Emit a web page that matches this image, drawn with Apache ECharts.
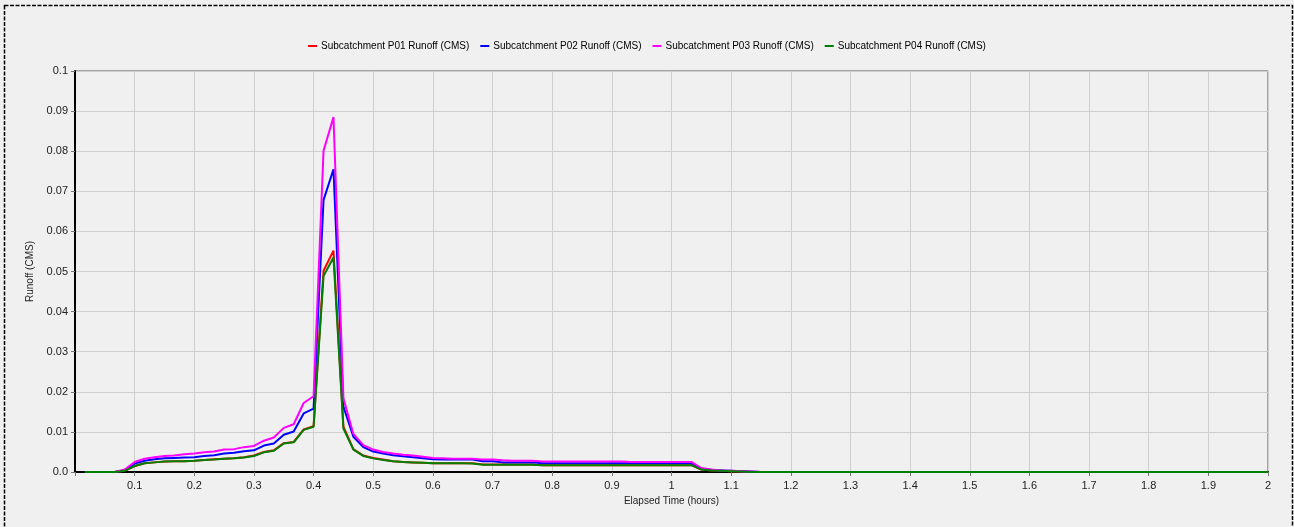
<!DOCTYPE html>
<html>
<head>
<meta charset="utf-8">
<title>Subcatchment Runoff</title>
<script src="https://cdn.jsdelivr.net/npm/echarts@6/dist/echarts.min.js"></script>
<style>
  html, body { margin: 0; padding: 0; background: #f0f0f0; }
  #chart { width: 1294px; height: 527px; }
</style>
</head>
<body>
<div id="chart"></div>
<script>
// Runoff reported every minute, from minute 1 to minute 120 (CMS)
const reportStepMinutes = 1;

const seriesNames = [
  'Subcatchment P01 Runoff (CMS)',
  'Subcatchment P02 Runoff (CMS)',
  'Subcatchment P03 Runoff (CMS)',
  'Subcatchment P04 Runoff (CMS)'
];
const seriesColors = ['#ff0000', '#0000ff', '#ff00ff', '#008000'];

const runoffP01 = [
  0, 0, 0, 0, 0.0003, 0.0015, 0.0022, 0.0024, 0.0026, 0.0027,
  0.0027, 0.0028, 0.0030, 0.0032, 0.0033, 0.0034, 0.0037, 0.0041, 0.0050, 0.0054,
  0.0072, 0.0075, 0.0106, 0.0114, 0.0502, 0.0552, 0.0113, 0.0057, 0.0041, 0.0035,
  0.0031, 0.0027, 0.0025, 0.0024, 0.0023, 0.0022, 0.0022, 0.0022, 0.0022, 0.0022,
  0.0019, 0.0019, 0.0019, 0.0019, 0.0019, 0.0019, 0.0017, 0.0017, 0.0017, 0.0017,
  0.0017, 0.0017, 0.0017, 0.0017, 0.0017, 0.0017, 0.0017, 0.0017, 0.0017, 0.0017,
  0.0017, 0.0017, 0.0006, 0.0004, 0.0003, 0.0002, 0.0001, 0, 0, 0,
  0, 0, 0, 0, 0, 0, 0, 0, 0, 0,
  0, 0, 0, 0, 0, 0, 0, 0, 0, 0,
  0, 0, 0, 0, 0, 0, 0, 0, 0, 0,
  0, 0, 0, 0, 0, 0, 0, 0, 0, 0,
  0, 0, 0, 0, 0, 0, 0, 0, 0, 0
];

const runoffP02 = [
  0, 0, 0, 0, 0.0004, 0.0021, 0.0028, 0.0032, 0.0034, 0.0035,
  0.0036, 0.0037, 0.0040, 0.0042, 0.0046, 0.0048, 0.0052, 0.0054, 0.0066, 0.0071,
  0.0093, 0.0101, 0.0146, 0.0158, 0.0678, 0.0755, 0.0163, 0.0088, 0.0062, 0.0051,
  0.0046, 0.0042, 0.0039, 0.0037, 0.0034, 0.0032, 0.0031, 0.0031, 0.0031, 0.0031,
  0.0027, 0.0027, 0.0024, 0.0024, 0.0024, 0.0024, 0.0022, 0.0022, 0.0022, 0.0022,
  0.0022, 0.0022, 0.0022, 0.0022, 0.0022, 0.0022, 0.0022, 0.0022, 0.0022, 0.0022,
  0.0022, 0.0022, 0.0008, 0.0005, 0.0004, 0.0003, 0.0002, 0.0001, 0, 0,
  0, 0, 0, 0, 0, 0, 0, 0, 0, 0,
  0, 0, 0, 0, 0, 0, 0, 0, 0, 0,
  0, 0, 0, 0, 0, 0, 0, 0, 0, 0,
  0, 0, 0, 0, 0, 0, 0, 0, 0, 0,
  0, 0, 0, 0, 0, 0, 0, 0, 0, 0
];

const runoffP03 = [
  0, 0, 0, 0, 0.0006, 0.0025, 0.0033, 0.0037, 0.0040, 0.0041,
  0.0044, 0.0046, 0.0049, 0.0051, 0.0056, 0.0057, 0.0062, 0.0065, 0.0078, 0.0086,
  0.0110, 0.0119, 0.0172, 0.0189, 0.0801, 0.0885, 0.0184, 0.0095, 0.0067, 0.0056,
  0.0050, 0.0046, 0.0043, 0.0041, 0.0038, 0.0035, 0.0034, 0.0033, 0.0033, 0.0033,
  0.0031, 0.0031, 0.0029, 0.0028, 0.0028, 0.0028, 0.0026, 0.0026, 0.0026, 0.0026,
  0.0026, 0.0026, 0.0026, 0.0026, 0.0026, 0.0025, 0.0025, 0.0025, 0.0025, 0.0025,
  0.0025, 0.0025, 0.0010, 0.0006, 0.0004, 0.0003, 0.0002, 0.0001, 0, 0,
  0, 0, 0, 0, 0, 0, 0, 0, 0, 0,
  0, 0, 0, 0, 0, 0, 0, 0, 0, 0,
  0, 0, 0, 0, 0, 0, 0, 0, 0, 0,
  0, 0, 0, 0, 0, 0, 0, 0, 0, 0,
  0, 0, 0, 0, 0, 0, 0, 0, 0, 0
];

const runoffP04 = [
  0, 0, 0, 0, 0.0003, 0.0015, 0.0022, 0.0024, 0.0026, 0.0027,
  0.0027, 0.0028, 0.0030, 0.0031, 0.0033, 0.0034, 0.0036, 0.0040, 0.0049, 0.0053,
  0.0071, 0.0074, 0.0105, 0.0113, 0.0489, 0.0535, 0.0108, 0.0056, 0.0040, 0.0034,
  0.0030, 0.0027, 0.0025, 0.0024, 0.0023, 0.0022, 0.0022, 0.0022, 0.0022, 0.0021,
  0.0018, 0.0018, 0.0018, 0.0018, 0.0018, 0.0018, 0.0017, 0.0017, 0.0017, 0.0017,
  0.0017, 0.0017, 0.0017, 0.0017, 0.0017, 0.0017, 0.0017, 0.0017, 0.0017, 0.0017,
  0.0017, 0.0017, 0.0006, 0.0004, 0.0003, 0.0002, 0.0001, 0, 0, 0,
  0, 0, 0, 0, 0, 0, 0, 0, 0, 0,
  0, 0, 0, 0, 0, 0, 0, 0, 0, 0,
  0, 0, 0, 0, 0, 0, 0, 0, 0, 0,
  0, 0, 0, 0, 0, 0, 0, 0, 0, 0,
  0, 0, 0, 0, 0, 0, 0, 0, 0, 0
];

const yTickLabels = ['0.0', '0.01', '0.02', '0.03', '0.04', '0.05', '0.06', '0.07', '0.08', '0.09', '0.1'];
const xTickLabels = ['', '0.1', '0.2', '0.3', '0.4', '0.5', '0.6', '0.7', '0.8', '0.9', '1',
  '1.1', '1.2', '1.3', '1.4', '1.5', '1.6', '1.7', '1.8', '1.9', '2'];

const allRunoff = [runoffP01, runoffP02, runoffP03, runoffP04];

// elapsed hours for each reporting step
function toPairs(values) {
  return values.map((v, i) => [((i + 1) * reportStepMinutes) / 60, v]);
}

const FONT = '"Liberation Sans", Arial, sans-serif';
const chart = echarts.init(document.getElementById('chart'), null, { renderer: 'canvas' });

chart.setOption({
  backgroundColor: '#f0f0f0',
  animation: false,
  textStyle: { fontFamily: FONT },
  graphic: [{
    type: 'rect',
    shape: { x: 4.5, y: 5.5, width: 1288, height: 540 },
    style: { fill: 'none', stroke: '#000', lineWidth: 1.5, lineDash: [4, 1.5] },
    silent: true,
    z: 100
  }],
  legend: {
    top: 36,
    left: 'center',
    icon: 'rect',
    itemWidth: 9,
    itemHeight: 2,
    itemGap: 11,
    textStyle: { fontFamily: FONT, fontSize: 10, color: '#000', padding: [0, 0, 0, -1] },
    data: seriesNames
  },
  grid: {
    left: 75, right: 26, top: 71, bottom: 55,
    show: true,
    backgroundColor: '#f0f0f0',
    borderColor: '#555',
    borderWidth: 1
  },
  xAxis: {
    type: 'value',
    min: 0, max: 2, interval: 0.1,
    name: 'Elapsed Time (hours)',
    nameLocation: 'middle',
    nameGap: 21,
    nameTextStyle: { fontFamily: FONT, fontSize: 10, color: '#222' },
    axisLine: { show: true, onZero: false, lineStyle: { color: '#000', width: 2 } },
    axisTick: { show: true, length: 4, lineStyle: { color: '#777' } },
    axisLabel: {
      margin: 8,
      fontFamily: FONT, fontSize: 11, color: '#222',
      formatter: (v) => xTickLabels[Math.round(v * 10)]
    },
    splitLine: { show: true, lineStyle: { color: '#cfcfcf', width: 1 } }
  },
  yAxis: {
    type: 'value',
    min: 0, max: 0.1, interval: 0.01,
    name: 'Runoff (CMS)',
    nameLocation: 'middle',
    nameRotate: 90,
    nameGap: 37,
    nameTextStyle: { fontFamily: FONT, fontSize: 10, color: '#222' },
    axisLine: { show: true, onZero: false, lineStyle: { color: '#000', width: 2 } },
    axisTick: { show: true, length: 4, lineStyle: { color: '#777' } },
    axisLabel: {
      margin: 7,
      fontFamily: FONT, fontSize: 11, color: '#222',
      formatter: (v) => yTickLabels[Math.round(v * 100)]
    },
    splitLine: { show: true, lineStyle: { color: '#cfcfcf', width: 1 } }
  },
  series: allRunoff.map((vals, k) => ({
    name: seriesNames[k],
    type: 'line',
    data: toPairs(vals),
    showSymbol: false,
    symbol: 'none',
    lineStyle: { color: seriesColors[k], width: 2 },
    itemStyle: { color: seriesColors[k] },
    z: 2 + k
  }))
});
</script>
</body>
</html>
